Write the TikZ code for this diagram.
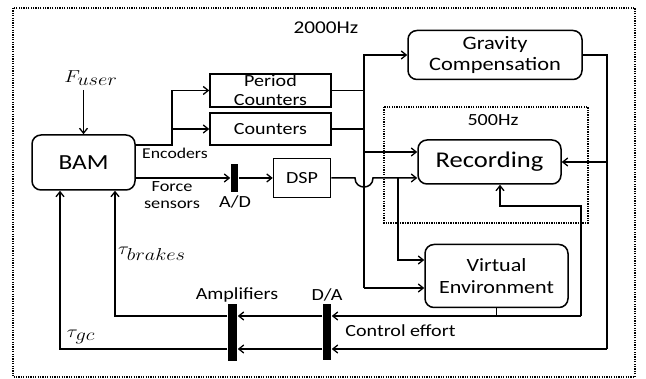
\documentclass[tikz,border=0pt]{standalone}
\usepackage{graphicx}
\usepackage{fontspec}
\setmainfont[FakeStretch=1.18,Numbers={Lining,Monospaced}]{Carlito}
\usetikzlibrary{arrows.meta,calc}
% italic math label with full-size subscript, widened like the text
\newcommand{\mlabel}[2]{\scalebox{1.18}[1]{$#1_{\textstyle #2}$}}
\begin{document}
\begin{tikzpicture}[x=1pt,y=-1pt,
  line width=1.5pt,
  >={Straight Barb[length=5pt,width=8pt,line width=1.3pt]},
  blk/.style={draw,minimum width=#1,inner sep=0pt,align=center},
  rblk/.style={draw,rounded corners=9pt,inner sep=0pt,align=center},
  bar/.style={fill=black,draw=none,inner sep=0pt,minimum width=8pt},
  lbl/.style={inner sep=0pt,align=center,font=\fontsize{17}{19}\selectfont},
  mlbl/.style={inner sep=0pt,font=\fontsize{17}{19}\selectfont},
  frame/.style={line width=1.2pt,dash pattern=on 1.3pt off 1.1pt}]
\useasboundingbox (0,0) rectangle (646,379);

% sampling-rate frames
\draw[frame] (13,8) rectangle (635,377);
\draw[frame] (384,107) rectangle (588,223);
\node[lbl,font=\fontsize{18}{20}\selectfont] (f2000) at (326,28) {2000Hz};
\node[lbl] (f500) at (493,120) {500Hz};

% blocks
\node[rblk,minimum width=103pt,minimum height=55pt,font=\fontsize{21.5}{23}\selectfont] (bam) at (83.5,162.5) {BAM};
\node[blk=121pt,minimum height=33pt,font=\fontsize{17}{19}\selectfont] (pc) at (270.5,90.5) {Period\\Counters};
\node[blk=121pt,minimum height=32pt,font=\fontsize{17}{19}\selectfont] (ct) at (270.5,129) {Counters};
\node[blk=57pt,minimum height=39pt,font=\fontsize{17}{19}\selectfont] (dsp) at (302,178) {DSP};
\node[rblk,minimum width=174pt,minimum height=49pt,font=\fontsize{19}{21}\selectfont] (grav) at (495,55) {Gravity\\Compensation};
\node[rblk,minimum width=143pt,minimum height=44pt,font=\fontsize{22.5}{24}\selectfont] (rec) at (489.5,162) {Recording};
\node[rblk,minimum width=143pt,minimum height=63pt,font=\fontsize{18.7}{21.5}\selectfont] (ve) at (496.5,276) {Virtual\\Environment};

% converters and amplifiers
\node[bar,minimum height=28pt,minimum width=7pt] (ad) at (234.5,178) {};
\node[bar,minimum height=56pt] (da) at (327,332) {};
\node[bar,minimum height=57pt,minimum width=9pt] (amp) at (232.5,332.5) {};

% text labels
\node[mlbl] (fuser) at (91,78) {\mlabel{F}{user}};
\node[lbl,font=\fontsize{15}{17}\selectfont] (lenc) at (175,153) {Encoders};
\node[lbl,font=\fontsize{15.5}{17}\selectfont] (lforce) at (172,195.5) {Force\\sensors};
\node[lbl] (lad) at (235,202) {A/D};
\node[lbl] (lamp) at (237,295) {Amplifiers};
\node[lbl] (lda) at (327,295) {D/A};
\node[lbl] (lce) at (400.5,331) {Control effort};
\node[mlbl] (ltb) at (152,254) {\mlabel{\tau}{brakes}};
\node[mlbl] (ltg) at (81,337) {\mlabel{\tau}{gc}};

% junction points
\coordinate (encJ) at (172,145);
\coordinate (busTop) at (364,55);
\coordinate (busBot) at (364,288);
\coordinate (hopL) at (355,178);
\coordinate (hopR) at (373,178);
\coordinate (dspJ) at (398,178);
\coordinate (gR) at (607,55);
\coordinate (gB) at (607,349);
\coordinate (vR) at (581,316);
\coordinate (vUp) at (581,206);

% inputs to BAM side
\draw[->] (bam.north |- fuser.south) ++(0,4) -- (bam.north);
\draw[->] ([yshift=17.5pt]bam.east) -- (encJ) |- (pc.west);
\draw[->] (encJ) |- (ct.west);
\draw[->] (bam.east |- ad) -- (ad.west);
\draw[->] (ad.east) -- (dsp.west);

% counters bus
\draw (pc.east) -- (pc.east -| busTop);
\draw (ct.east) -- (ct.east -| busTop);
\draw[->] (busBot) |- (grav.west);
\draw[->] (busBot) -- (ve.west |- busBot);
\draw[->] ([yshift=10pt]rec.west -| busTop) -- ([yshift=10pt]rec.west);

% DSP output hopping over the bus
\draw[->] (dsp.east) -- (hopL) .. controls (355,190) and (373,190) .. (hopR) -- ([yshift=-16pt]rec.west);
\draw[->] (dspJ) |- ([yshift=16pt]ve.west);

% gravity compensation output
\draw (grav.east) -- (gR) -- (gB);
\draw[->] (gR |- rec.east) -- (rec.east);
\draw[->] (gB) -- (da.east |- gB);
\draw[->] (da.west |- gB) -- (amp.east |- gB);
\draw[->] (amp.west |- gB) -| ([xshift=-23.5pt]bam.south);

% virtual environment output
\draw (ve.south) -- (ve.south |- vR);
\draw[->] (vR) -- (da.east |- vR);
\draw[->] (vR) -- (vUp) -| ([xshift=10.5pt]rec.south);
\draw[->] (da.west |- vR) -- (amp.east |- vR);
\draw[->] (amp.west |- vR) -| ([xshift=31.5pt]bam.south);
\end{tikzpicture}
\end{document}
